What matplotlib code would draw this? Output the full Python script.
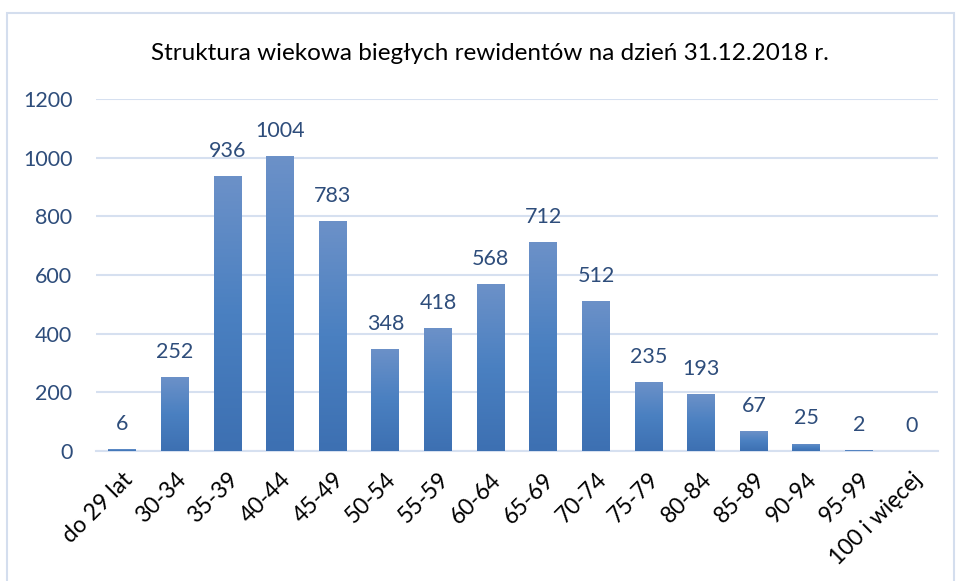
import matplotlib
matplotlib.use("Agg")
import matplotlib.pyplot as plt
import numpy as np
from matplotlib.colors import LinearSegmentedColormap
from matplotlib.patches import Rectangle

categories = ["do 29 lat", "30-34", "35-39", "40-44", "45-49", "50-54", "55-59", "60-64",
              "65-69", "70-74", "75-79", "80-84", "85-89", "90-94", "95-99", "100 i więcej"]
values = [6, 252, 936, 1004, 783, 348, 418, 568, 712, 512, 235, 193, 67, 25, 2, 0]
yticks = [0, 200, 400, 600, 800, 1000, 1200]
title = "Struktura wiekowa biegłych rewidentów na dzień 31.12.2018 r."

FONT = "Lato"
W, H = 956, 581
fig = plt.figure(figsize=(W / 100, H / 100), dpi=100)
fig.patch.set_facecolor("white")

# outer border
fig.patches.append(Rectangle((7 / W, -0.01), (954 - 7) / W, (H - 13) / H + 0.01,
                             transform=fig.transFigure, fill=False,
                             edgecolor="#d4deee", linewidth=1.5))

ax = fig.add_axes([96 / W, 1 - 451 / H, (938 - 96) / W, (451 - 99) / H])
x = np.arange(len(categories))
bars = ax.bar(x, values, width=0.53, color="none", zorder=3)

cmap = LinearSegmentedColormap.from_list("g", ["#3d70b2", "#4a80c1", "#6c91c8"])
grad = np.linspace(0, 1, 256).reshape(-1, 1)
for b in bars:
    h = b.get_height()
    if h <= 0:
        continue
    x0 = b.get_x()
    im = ax.imshow(grad, cmap=cmap, origin="lower", aspect="auto",
                   extent=(x0, x0 + b.get_width(), 0, h), zorder=3)
    im.set_clip_path(b)

lblc = "#2e4d7b"
for xi, v in zip(x, values):
    ax.annotate(str(v), (xi, v), xytext=(0, 11), textcoords="offset points",
                ha="center", va="bottom", fontsize=15.5, color=lblc, family=FONT)

ax.set_xlim(-0.5, len(categories) - 0.5)
ax.set_ylim(0, 1200)
ax.set_yticks(yticks)
ax.set_yticklabels([str(t) for t in yticks], fontsize=15.5, color=lblc, family=FONT)
ax.tick_params(axis="y", length=0, pad=17)
ax.set_xticks(x)
ax.set_xticklabels(categories, rotation=45, ha="right", rotation_mode="anchor",
                   fontsize=16.5, color="black", family=FONT)
ax.tick_params(axis="x", length=0, pad=13)
ax.grid(axis="y", color="#d6e0f0", linewidth=1.5, zorder=0)
ax.set_axisbelow(True)
for s in ["top", "right", "left"]:
    ax.spines[s].set_visible(False)
ax.spines["bottom"].set_color("#d6e0f0")
ax.spines["bottom"].set_linewidth(1.5)
ax.set_facecolor("none")

fig.text(490 / W, 1 - 53 / H, title, ha="center", va="center", fontsize=17.5,
         color="black", family=FONT)

fig.savefig("out.png", dpi=100)
